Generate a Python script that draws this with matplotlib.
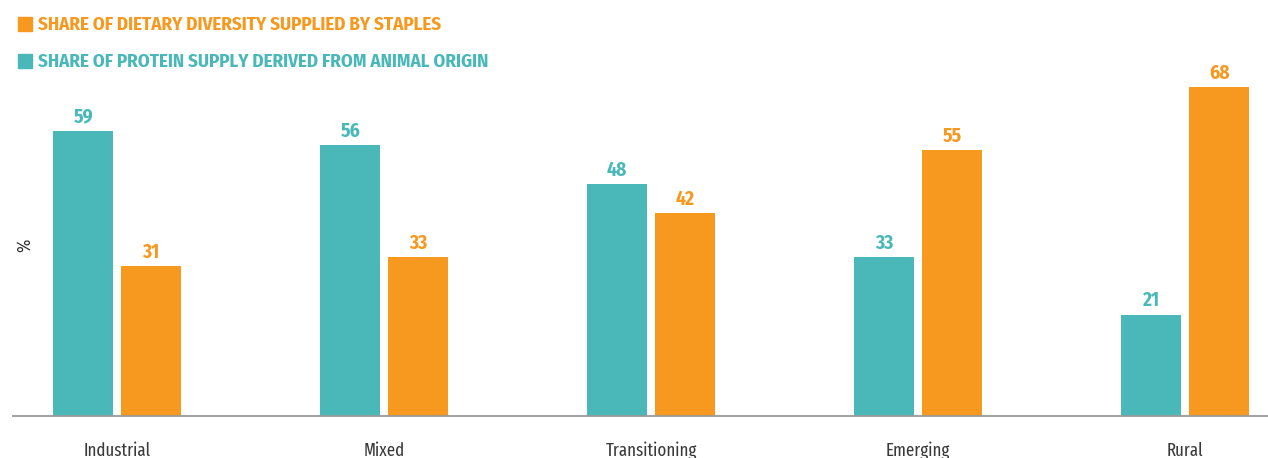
import numpy as np
import matplotlib.pyplot as plt
import matplotlib.transforms as mtransforms
from matplotlib.patches import Rectangle

# food system types and the two shares (%)
categories = ["Industrial", "Mixed", "Transitioning", "Emerging", "Rural"]
animal_protein = [59, 56, 48, 33, 21]
staples = [31, 33, 42, 55, 68]

teal = "#4AB8B9"
orange = "#F7981F"
cond = ["Fira Sans Condensed", "DejaVu Sans"]
xcond = ["Fira Sans Extra Condensed", "Fira Sans Condensed", "DejaVu Sans"]

W, H = 1268, 458
fig = plt.figure(figsize=(W / 100, H / 100), dpi=100)
ax = fig.add_axes([13 / W, 42 / H, 1255 / W, 416 / H])

x = np.arange(len(categories))
width = 0.225
offset = 0.127

b1 = ax.bar(x - offset, animal_protein, width, color=teal)
b2 = ax.bar(x + offset, staples, width, color=orange)

# value labels over bars, baseline ~8px above the bar top
for rects, vals, col in [(b1, animal_protein, teal), (b2, staples, orange)]:
    for rect, v in zip(rects, vals):
        ax.annotate(str(v), (rect.get_x() + rect.get_width() / 2, v),
                    xytext=(0, 5.8), textcoords="offset points",
                    ha="center", va="baseline", color=col,
                    fontsize=14, fontweight="bold", family=cond)

ax.set_xlim(-0.39, 4.31)
ax.set_ylim(0, 86.1)

for s in ["top", "right", "left"]:
    ax.spines[s].set_visible(False)
ax.spines["bottom"].set_color("#9a9a9a")
ax.spines["bottom"].set_linewidth(1.3)
ax.set_yticks([])
ax.set_xticks([])

# category names under the groups
trans = mtransforms.blended_transform_factory(ax.transData, ax.transAxes)
for xi, name in zip(x, categories):
    ax.text(xi, -40 / 416, name, transform=trans, ha="center", va="baseline",
            fontsize=13.2, color="#3a3a3a", family=xcond, clip_on=False)

# "%" axis label
fig.text(25 / W, 1 - 245 / H, "%", rotation=90, ha="center", va="center",
         fontsize=13, color="#333333", family=cond)

# legend drawn as squares + text
legend = [("SHARE OF DIETARY DIVERSITY SUPPLIED BY STAPLES", orange, 17, 30),
          ("SHARE OF PROTEIN SUPPLY DERIVED FROM ANIMAL ORIGIN", teal, 54, 66.7)]
for label, col, ytop, base in legend:
    fig.patches.append(Rectangle((18 / W, 1 - (ytop + 14) / H), 14 / W, 14 / H,
                                 transform=fig.transFigure, color=col))
    fig.text(38 / W, 1 - base / H, label, ha="left", va="baseline",
             color=col, fontsize=13.6, fontweight="bold", family=cond)

plt.savefig("out.png", dpi=100)
